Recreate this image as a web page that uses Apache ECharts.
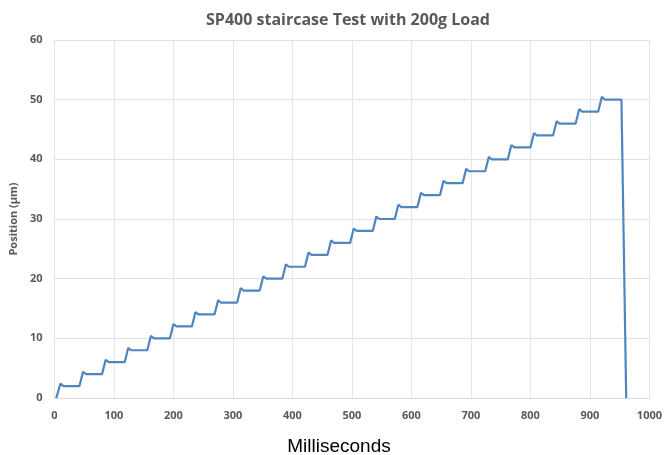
<!DOCTYPE html>
<html>
<head>
<meta charset="utf-8">
<script src="https://cdn.jsdelivr.net/npm/echarts@6/dist/echarts.min.js"></script>
<style>html,body{margin:0;padding:0;background:#fff}#c{width:665px;height:455px}</style>
</head>
<body>
<div id="c"></div>
<script>
const chartTitle = 'SP400 staircase Test with 200g Load';
const yAxisTitle = 'Position (µm)';
const xAxisTitle = 'Milliseconds';
const xTicks = [0, 100, 200, 300, 400, 500, 600, 700, 800, 900, 1000];
const yTicks = [0, 10, 20, 30, 40, 50, 60];

const timeMs = [
  3, 10, 15,
  42, 48, 53,
  80, 86, 91,
  118, 124, 129,
  156, 162, 167,
  194, 200, 205,
  231, 237, 242,
  269, 275, 280,
  307, 313, 318,
  345, 351, 356,
  383, 389, 394,
  421, 427, 432,
  459, 465, 470,
  497, 503, 508,
  535, 541, 546,
  572, 578, 583,
  610, 616, 621,
  648, 654, 659,
  686, 692, 697,
  724, 730, 735,
  762, 768, 773,
  800, 806, 811,
  838, 844, 849,
  876, 882, 887,
  914, 920, 925,
  953, 961
];
const positionUm = [
  0, 2.4, 2.0,
  2.0, 4.4, 4.0,
  4.0, 6.4, 6.0,
  6.0, 8.4, 8.0,
  8.0, 10.4, 10.0,
  10.0, 12.4, 12.0,
  12.0, 14.4, 14.0,
  14.0, 16.4, 16.0,
  16.0, 18.4, 18.0,
  18.0, 20.4, 20.0,
  20.0, 22.4, 22.0,
  22.0, 24.4, 24.0,
  24.0, 26.4, 26.0,
  26.0, 28.4, 28.0,
  28.0, 30.4, 30.0,
  30.0, 32.4, 32.0,
  32.0, 34.4, 34.0,
  34.0, 36.4, 36.0,
  36.0, 38.4, 38.0,
  38.0, 40.4, 40.0,
  40.0, 42.4, 42.0,
  42.0, 44.4, 44.0,
  44.0, 46.4, 46.0,
  46.0, 48.4, 48.0,
  48.0, 50.5, 50.0,
  50.0, 0
];

const seriesData = timeMs.map((t, i) => [t, positionUm[i]]);

const chart = echarts.init(document.getElementById('c'), null, {renderer: 'canvas'});
const labelStyle = {color: '#595959', fontFamily: 'Open Sans', fontWeight: 'bold', fontSize: 11};
chart.setOption({
  animation: false,
  backgroundColor: '#fff',
  title: {
    text: chartTitle,
    left: 343, top: 7, textAlign: 'center',
    textStyle: {color: '#595959', fontFamily: 'Open Sans', fontWeight: 'bold', fontSize: 16}
  },
  grid: {left: 52, right: 15, top: 40, bottom: 57, containLabel: false},
  xAxis: {
    type: 'value', min: xTicks[0], max: xTicks[xTicks.length - 1], interval: 100,
    axisLine: {show: true, lineStyle: {color: '#d9d9d9'}},
    axisTick: {show: false},
    axisLabel: Object.assign({margin: 12, formatter: v => String(v)}, labelStyle),
    splitLine: {show: true, lineStyle: {color: '#e6e6e6'}}
  },
  yAxis: {
    type: 'value', min: yTicks[0], max: yTicks[yTicks.length - 1], interval: 10,
    name: yAxisTitle, nameLocation: 'middle', nameGap: 32,
    nameTextStyle: {color: '#595959', fontFamily: 'Open Sans', fontWeight: 'bold', fontSize: 11},
    axisLine: {show: false},
    axisTick: {show: false},
    axisLabel: Object.assign({margin: 12, formatter: v => String(v)}, labelStyle),
    splitLine: {show: true, lineStyle: {color: '#e0e0e0'}}
  },
  graphic: [{
    type: 'text', x: 339, y: 447,
    style: {text: xAxisTitle, fill: '#000', font: '19px "Liberation Sans", Arial, sans-serif', align: 'center', verticalAlign: 'middle'}
  }],
  series: [{
    type: 'line', data: seriesData, showSymbol: false,
    lineStyle: {color: '#4f86c0', width: 2.2}
  }]
});
</script>
</body>
</html>
